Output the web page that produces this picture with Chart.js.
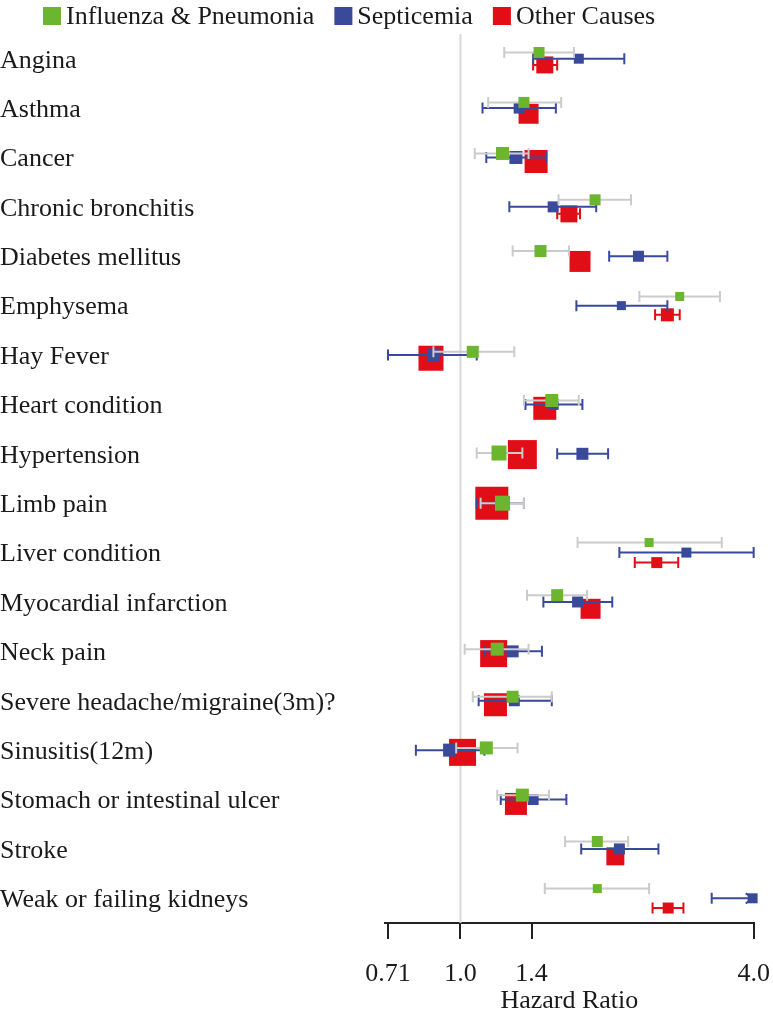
<!DOCTYPE html>
<html>
<head>
<meta charset="utf-8">
<script src="https://cdn.jsdelivr.net/npm/chart.js@4.4.0/dist/chart.umd.min.js"></script>
<style>
  html, body { margin: 0; padding: 0; background: #fff; overflow: hidden; }
  /* a little wider than the window: chart.js keeps ~23px on the right of the x axis */
  #wrap { width: 777px; height: 1017px; position: relative; }
</style>
</head>
<body>
<div id="wrap"><canvas id="forest"></canvas></div>
<script>
const causes = [
  "Angina", "Asthma", "Cancer", "Chronic bronchitis", "Diabetes mellitus",
  "Emphysema", "Hay Fever", "Heart condition", "Hypertension", "Limb pain",
  "Liver condition", "Myocardial infarction", "Neck pain",
  "Severe headache/migraine(3m)?", "Sinusitis(12m)",
  "Stomach or intestinal ulcer", "Stroke", "Weak or failing kidneys"
];

const tickValues = [0.71, 1.0, 1.4, 4.0];
const tickLabels = ["0.71", "1.0", "1.4", "4.0"];

// Influenza & Pneumonia
const fluHR  = [1.45, 1.35, 1.22, 1.89, 1.46, 2.82, 1.06, 1.54, 1.20, 1.22, 2.44, 1.58, 1.19, 1.28, 1.13, 1.34, 1.91, 1.91];
const fluLow = [1.23, 1.14, 1.07, 1.59, 1.28, 2.33, 0.88, 1.35, 1.08, 1.10, 1.74, 1.37, 1.02, 1.06, 0.98, 1.19, 1.64, 1.49];
const fluHigh= [1.71, 1.61, 1.38, 2.24, 1.67, 3.41, 1.29, 1.75, 1.34, 1.35, 3.44, 1.82, 1.38, 1.54, 1.31, 1.52, 2.21, 2.44];

// Septicemia
const sepHR  = [1.75, 1.32, 1.30, 1.55, 2.32, 2.14, 0.88, 1.55, 1.78, 1.21, 2.91, 1.74, 1.28, 1.29, 0.95, 1.41, 2.12, 3.98];
const sepLow = [1.41, 1.11, 1.13, 1.26, 2.02, 1.73, 0.71, 1.36, 1.58, 1.08, 2.12, 1.48, 1.12, 1.09, 0.81, 1.21, 1.77, 3.28];
const sepHigh= [2.17, 1.57, 1.50, 1.90, 2.66, 2.66, 1.08, 1.78, 2.01, 1.35, 4.00, 2.05, 1.47, 1.54, 1.12, 1.65, 2.55, 4.60];

// Other Causes
const othHR  = [1.49, 1.38, 1.43, 1.67, 1.76, 2.66, 0.87, 1.49, 1.34, 1.16, 2.53, 1.85, 1.17, 1.18, 1.01, 1.30, 2.08, 2.67];
const othLow = [1.41, 1.35, 1.40, 1.58, 1.73, 2.51, 0.85, 1.46, 1.31, 1.14, 2.28, 1.81, 1.15, 1.16, 0.99, 1.27, 2.02, 2.48];
const othHigh= [1.58, 1.41, 1.46, 1.76, 1.79, 2.82, 0.89, 1.52, 1.37, 1.18, 2.80, 1.89, 1.19, 1.20, 1.03, 1.33, 2.14, 2.87];

// vertical dodge of the three series inside each row (row units) and box sizes (px)
const rowShift = [0.126, 0.115, 0.081, 0.142, 0.105, 0.186, 0.065, 0.079, 0.016, 0, 0.203, 0.138, 0.045, 0.081, 0.045, 0.089, 0.15, 0.197];
const fluBox = [11, 11, 13, 11, 12, 9, 12, 13, 15, 15, 9, 12, 13, 12, 13, 13, 11, 9];
const sepBox = [10, 11, 13, 11, 11, 9, 13, 11, 12, 12, 10, 11, 12, 11, 13, 11, 11, 10];
const othBox = [17, 20, 23, 17, 21, 13, 25, 23, 29, 33, 11, 20, 27, 23, 27, 22, 18, 11];

const GREEN = "#6cb52e", BLUE = "#3a4a9b", RED = "#e20e17";

function serie(label, hr, lo, hi, box, sign, color, ciColor) {
  return {
    label: label,
    data: hr.map((v, i) => ({ x: v, y: i + sign * rowShift[i] })),
    ciLow: lo,
    ciHigh: hi,
    ciColor: ciColor,
    pointStyle: "rect",
    pointRadius: box.map(s => s / Math.SQRT2),
    backgroundColor: color,
    borderWidth: 0,
    pointBorderWidth: 0,
    showLine: false,
    clip: false
  };
}

const errorBars = {
  id: "errorBars",
  beforeDatasetDraw(chart, args) {
    const ds = chart.data.datasets[args.index];
    const xs = chart.scales.x, ys = chart.scales.y;
    const ctx = chart.ctx;
    const xEnd = xs.getPixelForValue(xs.max);
    ctx.save();
    ctx.strokeStyle = ds.ciColor;
    ctx.lineWidth = 2;
    ds.data.forEach((p, i) => {
      const py = ys.getPixelForValue(p.y);
      const x0 = xs.getPixelForValue(ds.ciLow[i]);
      const over = ds.ciHigh[i] > xs.max;
      const x1 = over ? xEnd : xs.getPixelForValue(ds.ciHigh[i]);
      ctx.beginPath();
      ctx.moveTo(x0, py); ctx.lineTo(x1, py);
      ctx.moveTo(x0, py - 5.5); ctx.lineTo(x0, py + 5.5);
      if (over) {
        ctx.moveTo(x1 - 8, py - 5); ctx.lineTo(x1, py); ctx.lineTo(x1 - 8, py + 5);
      } else {
        ctx.moveTo(x1, py - 5.5); ctx.lineTo(x1, py + 5.5);
      }
      ctx.stroke();
    });
    ctx.restore();
  }
};

const refLine = {
  id: "refLine",
  beforeDatasetsDraw(chart) {
    const { ctx, chartArea } = chart;
    const px = chart.scales.x.getPixelForValue(1.0);
    ctx.save();
    ctx.strokeStyle = "#d8d8d8";
    ctx.lineWidth = 2;
    ctx.beginPath();
    ctx.moveTo(px, chartArea.top);
    ctx.lineTo(px, chartArea.bottom);
    ctx.stroke();
    ctx.restore();
  }
};

const topLegend = {
  id: "topLegend",
  afterDraw(chart) {
    const ctx = chart.ctx;
    let x = 43;
    ctx.save();
    ctx.font = '26px "Liberation Serif", serif';
    ctx.textBaseline = "middle";
    chart.data.datasets.forEach(ds => {
      ctx.fillStyle = ds.backgroundColor;
      ctx.fillRect(x, 7, 18, 18);
      ctx.fillStyle = "#1a1a1a";
      ctx.fillText(ds.label, x + 23, 17);
      x += 23 + ctx.measureText(ds.label).width + 20;
    });
    ctx.restore();
  }
};

Chart.defaults.font.family = '"Liberation Serif", "Times New Roman", serif';
Chart.defaults.font.size = 26;
Chart.defaults.color = "#1a1a1a";

new Chart(document.getElementById("forest").getContext("2d"), {
  type: "scatter",
  data: {
    datasets: [
      serie("Influenza & Pneumonia", fluHR, fluLow, fluHigh, fluBox, -1, GREEN, "#cbcbcb"),
      serie("Septicemia", sepHR, sepLow, sepHigh, sepBox, 0, BLUE, BLUE),
      serie("Other Causes", othHR, othLow, othHigh, othBox, 1, RED, RED)
    ]
  },
  options: {
    responsive: true,
    maintainAspectRatio: false,
    animation: false,
    events: [],
    layout: { padding: { top: 34, right: 0, left: 0, bottom: 0 } },
    plugins: {
      legend: { display: false },
      tooltip: { enabled: false }
    },
    scales: {
      x: {
        type: "logarithmic",
        position: "bottom",
        min: 0.71,
        max: 4.0,
        afterBuildTicks: (scale) => { scale.ticks = tickValues.map(v => ({ value: v })); },
        afterFit: (scale) => {
          scale.height = 94;
          scale.paddingLeft = 0;
          scale.paddingRight = 19;
        },
        ticks: {
          autoSkip: false,
          maxRotation: 0,
          padding: 20,
          callback: (v, i) => tickLabels[i]
        },
        grid: {
          drawOnChartArea: false,
          drawTicks: true,
          tickLength: 16,
          color: "#222",
          lineWidth: 2
        },
        border: { display: true, color: "#222", width: 2 },
        title: {
          display: true,
          text: "Hazard Ratio",
          padding: { top: 0, bottom: 0 }
        }
      },
      y: {
        type: "linear",
        reverse: true,
        min: -0.5,
        max: 17.5,
        afterBuildTicks: (scale) => { scale.ticks = causes.map((_, i) => ({ value: i })); },
        afterFit: (scale) => { scale.width = 385; },
        ticks: {
          autoSkip: false,
          crossAlign: "far",
          labelOffset: 2,
          callback: (v) => causes[v]
        },
        grid: { display: false },
        border: { display: false }
      }
    }
  },
  plugins: [errorBars, refLine, topLegend]
});
</script>
</body>
</html>
